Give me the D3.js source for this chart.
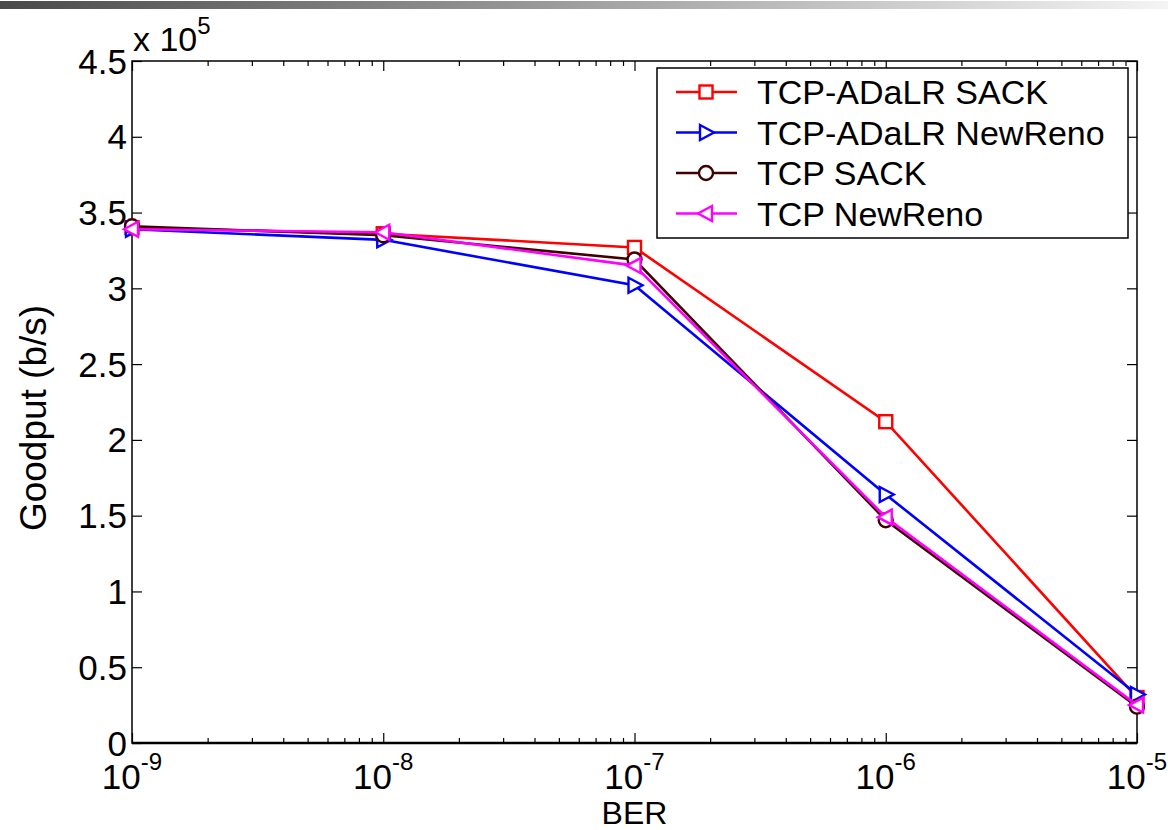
<!DOCTYPE html>
<html>
<head>
<meta charset="utf-8">
<script src="https://cdn.jsdelivr.net/npm/d3@7"></script>
<style>
  body { margin: 0; background: #fff; }
  svg { display: block; font-family: 'Liberation Sans', Arial, sans-serif; }
</style>
</head>
<body>
<div id="chart"></div>
<script>
// data (goodput in b/s)
const ber = [1e-9, 1e-8, 1e-7, 1e-6, 1e-5];
const adalrSack = [340000, 336000, 327000, 212000, 30000];
const adalrNewReno = [339000, 332000, 302000, 164000, 32000];
const tcpSack = [341000, 335000, 319000, 147000, 24000];
const tcpNewReno = [339000, 337000, 315000, 149000, 25000];

const seriesNames = ['TCP-ADaLR SACK', 'TCP-ADaLR NewReno', 'TCP SACK', 'TCP NewReno'];
const seriesColors = ['#ff0000', '#0000ff', '#400000', '#ff00ff'];
const seriesMarkers = ['square', 'triRight', 'circle', 'triLeft'];
const yTicks = [0, 50000, 100000, 150000, 200000, 250000, 300000, 350000, 400000, 450000];
const yTickLabels = ['0', '0.5', '1', '1.5', '2', '2.5', '3', '3.5', '4', '4.5'];
const xExponents = ['-9', '-8', '-7', '-6', '-5'];

const width = 1168, height = 830;
const mLeft = 132, mRight = 1137, mTop = 61, mBottom = 743;

const x = d3.scaleLog().domain([1e-9, 1e-5]).range([mLeft, mRight]);
const y = d3.scaleLinear().domain([0, 450000]).range([mBottom, mTop]);

const svg = d3.select('#chart').append('svg')
  .attr('width', width)
  .attr('height', height)
  .attr('viewBox', [0, 0, width, height]);

// grey header bar
const grad = svg.append('defs').append('linearGradient')
  .attr('id', 'bar').attr('x1', 0).attr('x2', 1).attr('y1', 0).attr('y2', 0);
grad.append('stop').attr('offset', 0).attr('stop-color', '#4a4a4a');
grad.append('stop').attr('offset', 0.5).attr('stop-color', '#a0a0a0');
grad.append('stop').attr('offset', 1).attr('stop-color', '#f4f4f4');
svg.append('rect').attr('x', 0).attr('y', 1).attr('width', width).attr('height', 8)
  .attr('fill', 'url(#bar)');

// minor log ticks
const minor = [];
for (let e = -9; e < -5; e++) for (let k = 2; k <= 9; k++) minor.push(k * Math.pow(10, e));

const axisStyle = g => g.call(g => g.select('.domain').remove())
  .call(g => g.selectAll('.tick line').attr('stroke', '#000').attr('stroke-width', 1.2))
  .call(g => g.selectAll('.tick text').remove());

svg.append('g').attr('transform', `translate(0,${mBottom})`)
  .call(d3.axisBottom(x).tickValues(ber).tickSize(-10)).call(axisStyle);
svg.append('g').attr('transform', `translate(0,${mBottom})`)
  .call(d3.axisBottom(x).tickValues(minor).tickSize(-5)).call(axisStyle);
svg.append('g').attr('transform', `translate(0,${mTop})`)
  .call(d3.axisTop(x).tickValues(ber).tickSize(-10)).call(axisStyle);
svg.append('g').attr('transform', `translate(0,${mTop})`)
  .call(d3.axisTop(x).tickValues(minor).tickSize(-5)).call(axisStyle);
svg.append('g').attr('transform', `translate(${mLeft},0)`)
  .call(d3.axisLeft(y).tickValues(yTicks).tickSize(-10)).call(axisStyle);
svg.append('g').attr('transform', `translate(${mRight},0)`)
  .call(d3.axisRight(y).tickValues(yTicks).tickSize(-10)).call(axisStyle);

// box
svg.append('rect')
  .attr('x', mLeft).attr('y', mTop)
  .attr('width', mRight - mLeft).attr('height', mBottom - mTop)
  .attr('fill', 'none').attr('stroke', '#000').attr('stroke-width', 1.5);
svg.append('line').attr('x1', mLeft).attr('x2', mRight).attr('y1', mBottom).attr('y2', mBottom)
  .attr('stroke', '#000').attr('stroke-width', 2.5);

// y tick labels
svg.append('g').selectAll('text').data(yTicks).join('text')
  .attr('x', mLeft - 5)
  .attr('y', d => y(d))
  .attr('dy', '0.36em')
  .attr('text-anchor', 'end')
  .attr('font-size', 35)
  .text((d, i) => yTickLabels[i]);

// x tick labels 10^n
const xl = svg.append('g').selectAll('text').data(ber).join('text')
  .attr('x', d => x(d))
  .attr('y', 789)
  .attr('text-anchor', 'middle')
  .attr('font-size', 35);
xl.append('tspan').text('10');
xl.append('tspan').attr('dy', -19).attr('font-size', 24).text((d, i) => xExponents[i]);

// exponent note
const ex = svg.append('text').attr('x', 133).attr('y', 51).attr('font-size', 34);
ex.append('tspan').text('x 10');
ex.append('tspan').attr('dy', -17).attr('font-size', 24).text('5');

// axis titles
svg.append('text')
  .attr('x', (mLeft + mRight) / 2).attr('y', 824)
  .attr('text-anchor', 'middle').attr('font-size', 32)
  .text('BER');
svg.append('text')
  .attr('transform', `translate(46,${418}) rotate(-90)`)
  .attr('text-anchor', 'middle').attr('font-size', 37)
  .text('Goodput (b/s)');

// markers
const drawMarker = (sel, type, color) => {
  if (type === 'square') {
    sel.append('rect').attr('x', -6.5).attr('y', -6.5).attr('width', 13).attr('height', 13);
  } else if (type === 'circle') {
    sel.append('circle').attr('r', 7);
  } else if (type === 'triRight') {
    sel.append('path').attr('d', 'M-6,-7.5L8,0L-6,7.5Z');
  } else {
    sel.append('path').attr('d', 'M6,-7.5L-8,0L6,7.5Z');
  }
  sel.selectAll('*').attr('fill', 'white').attr('stroke', color).attr('stroke-width', 2.4);
};

const allSeries = [adalrSack, adalrNewReno, tcpSack, tcpNewReno];
const line = d3.line().x((d, i) => x(ber[i])).y(d => y(d));

allSeries.forEach((vals, s) => {
  svg.append('path')
    .attr('d', line(vals))
    .attr('fill', 'none')
    .attr('stroke', seriesColors[s])
    .attr('stroke-width', 2.6);
  svg.append('g').selectAll('g').data(vals).join('g')
    .attr('transform', (d, i) => `translate(${x(ber[i])},${y(d)})`)
    .each(function () { drawMarker(d3.select(this), seriesMarkers[s], seriesColors[s]); });
});

// legend
const legend = svg.append('g');
legend.append('rect')
  .attr('x', 657).attr('y', 68).attr('width', 471).attr('height', 170)
  .attr('fill', 'white').attr('stroke', '#000').attr('stroke-width', 1.5);
seriesNames.forEach((name, i) => {
  const ry = 92 + i * 40.5;
  legend.append('line').attr('x1', 676).attr('x2', 737).attr('y1', ry).attr('y2', ry)
    .attr('stroke', seriesColors[i]).attr('stroke-width', 2.6);
  const m = legend.append('g').attr('transform', `translate(706,${ry})`);
  drawMarker(m, seriesMarkers[i], seriesColors[i]);
  legend.append('text').attr('x', 757).attr('y', ry).attr('dy', '0.36em')
    .attr('font-size', 34).text(name);
});
</script>
</body>
</html>
